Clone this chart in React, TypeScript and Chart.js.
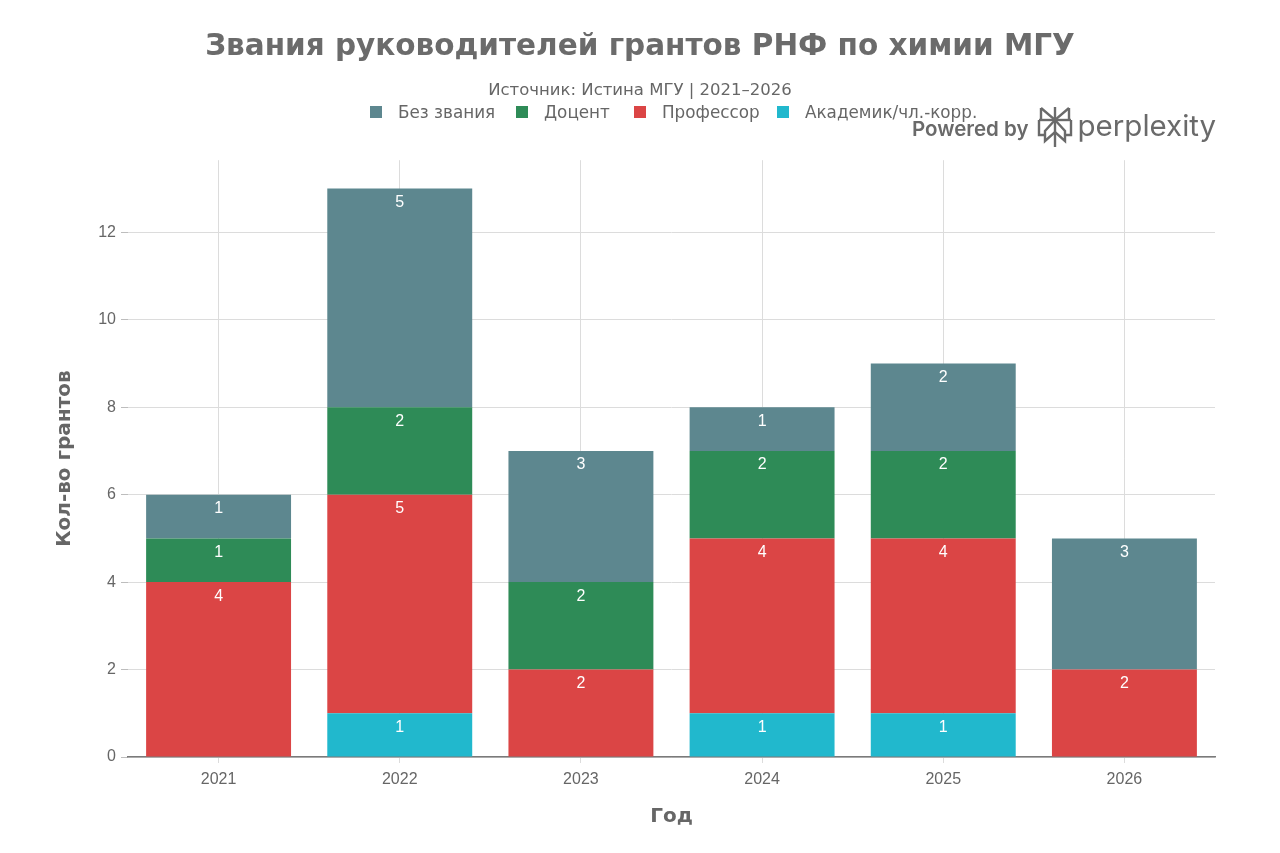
import { useEffect, useRef } from 'react';
import { Chart, registerables, Plugin } from 'chart.js';

Chart.register(...registerables);

// data
const years = ['2021', '2022', '2023', '2024', '2025', '2026'];
const academic = [0, 1, 0, 1, 1, 0];
const professor = [4, 5, 2, 4, 4, 2];
const docent = [1, 2, 2, 2, 2, 0];
const noRank = [1, 5, 3, 1, 2, 3];

const seriesNames = ['Академик/чл.-корр.', 'Профессор', 'Доцент', 'Без звания'];
const seriesColors = ['#21B8CD', '#DB4545', '#2E8B57', '#5D878F'];

const GRAY = '#666666';

// white numbers at the top of every non-empty segment
const segmentLabels: Plugin<'bar'> = {
  id: 'segmentLabels',
  afterDatasetsDraw(chart) {
    const { ctx } = chart;
    ctx.save();
    ctx.fillStyle = '#ffffff';
    ctx.font = '16px "Liberation Sans", Arial, sans-serif';
    ctx.textAlign = 'center';
    ctx.textBaseline = 'middle';
    chart.data.datasets.forEach((ds, i) => {
      const meta = chart.getDatasetMeta(i);
      meta.data.forEach((bar: any, j) => {
        const v = ds.data[j] as number;
        if (!v) return;
        ctx.fillText(String(v), bar.x, bar.y + 14);
      });
    });
    ctx.restore();
  },
};

const legendItems = [
  { name: 'Без звания', color: '#5D878F', x: 370 },
  { name: 'Доцент', color: '#2E8B57', x: 516 },
  { name: 'Профессор', color: '#DB4545', x: 634 },
  { name: 'Академик/чл.-корр.', color: '#21B8CD', x: 777 },
];

function PerplexityMark() {
  return (
    <svg width="36" height="42" viewBox="0 0 36 42" style={{ display: 'block' }}>
      <g fill="none" stroke="#6a6a6a" strokeWidth="2.4" strokeLinejoin="miter">
        <path d="M18 1 V41" />
        <path d="M4 2 L18 14 L32 2" />
        <path d="M4 2 V14 M32 2 V14" />
        <path d="M2 14 H34" />
        <path d="M2 14 V29 H8 M34 14 V29 H28" />
        <path d="M18 14 L8 25 V35 L18 26 L28 35 V25 Z" />
      </g>
    </svg>
  );
}

export default function App() {
  const chartRef = useRef<HTMLCanvasElement>(null);
  const chartInstance = useRef<Chart | null>(null);

  useEffect(() => {
    if (!chartRef.current) return;
    if (chartInstance.current) chartInstance.current.destroy();

    const ctx = chartRef.current.getContext('2d');
    if (!ctx) return;

    const values = [academic, professor, docent, noRank];

    chartInstance.current = new Chart(ctx, {
      type: 'bar',
      data: {
        labels: years,
        datasets: values.map((d, i) => ({
          label: seriesNames[i],
          data: d,
          backgroundColor: seriesColors[i],
          borderWidth: 0,
          categoryPercentage: 1,
          barPercentage: 0.8,
        })),
      },
      plugins: [segmentLabels],
      options: {
        responsive: true,
        maintainAspectRatio: false,
        animation: false,
        layout: { padding: { left: 65, right: 65, top: 0, bottom: 0 } },
        plugins: {
          legend: { display: false },
          tooltip: { enabled: false },
          title: {
            display: true,
            text: 'Звания руководителей грантов РНФ по химии МГУ',
            color: '#6b6b6b',
            font: { family: '"DejaVu Sans", sans-serif', size: 29.5, weight: 'bold' },
            padding: { top: 30, bottom: 15 },
          },
          subtitle: {
            display: true,
            text: 'Источник: Истина МГУ | 2021–2026',
            color: GRAY,
            font: { family: '"DejaVu Sans", sans-serif', size: 16.5 },
            padding: { top: 0, bottom: 60 },
          },
        },
        scales: {
          x: {
            stacked: true,
            grid: {
              offset: false,
              color: '#dcdcdc',
              tickLength: 6,
              tickColor: '#dcdcdc',
            },
            border: { display: true, color: '#7a7a7a', width: 1.5 },
            ticks: {
              color: GRAY,
              padding: 7,
              font: { family: '"Liberation Sans", Arial, sans-serif', size: 16 },
            },
            title: {
              display: true,
              text: 'Год',
              color: GRAY,
              font: { family: '"DejaVu Sans", sans-serif', size: 20, weight: 'bold' },
              padding: { top: 0, bottom: 24 },
            },
            afterFit(scale) {
              scale.height = 96;
            },
          },
          y: {
            stacked: true,
            min: 0,
            max: 13.65,
            grid: {
              color: '#dcdcdc',
              tickLength: 7,
              tickColor: '#bdbdbd',
            },
            border: { display: false },
            afterBuildTicks(scale) {
              scale.ticks = scale.ticks.filter((t) => t.value % 2 === 0);
            },
            ticks: {
              stepSize: 2,
              color: GRAY,
              padding: 5,
              font: { family: '"Liberation Sans", Arial, sans-serif', size: 16 },
            },
            title: {
              display: true,
              text: 'Кол-во грантов',
              color: GRAY,
              font: { family: '"DejaVu Sans", sans-serif', size: 20, weight: 'bold' },
              padding: { top: -12, bottom: 0 },
            },
            afterFit(scale) {
              scale.width = 63;
            },
          },
        },
      },
    });

    return () => {
      if (chartInstance.current) {
        chartInstance.current.destroy();
        chartInstance.current = null;
      }
    };
  }, []);

  return (
    <div
      style={{
        position: 'fixed',
        left: 0,
        top: 0,
        width: 1280,
        height: 853,
        background: '#ffffff',
      }}
    >
      <canvas ref={chartRef} style={{ width: '100%', height: '100%' }}></canvas>

      {legendItems.map((item) => (
        <div
          key={item.name}
          style={{
            position: 'absolute',
            left: item.x,
            top: 102,
            height: 20,
            display: 'flex',
            alignItems: 'center',
            whiteSpace: 'nowrap',
            fontFamily: '"DejaVu Sans", sans-serif',
            fontSize: 16.8,
            color: GRAY,
          }}
        >
          <span style={{ width: 12, height: 12, background: item.color, marginRight: 16 }} />
          {item.name}
        </div>
      ))}

      <div
        style={{
          position: 'absolute',
          left: 912,
          top: 106,
          display: 'flex',
          alignItems: 'center',
          color: '#6a6a6a',
          fontFamily: 'Inter, "Liberation Sans", sans-serif',
          whiteSpace: 'nowrap',
        }}
      >
        <span style={{ fontSize: 20.5, fontWeight: 600, marginTop: 2 }}>Powered by</span>
        <span style={{ margin: '0 5px 0 8px' }}>
          <PerplexityMark />
        </span>
        <span style={{ fontSize: 29.5, marginTop: -4 }}>perplexity</span>
      </div>
    </div>
  );
}
